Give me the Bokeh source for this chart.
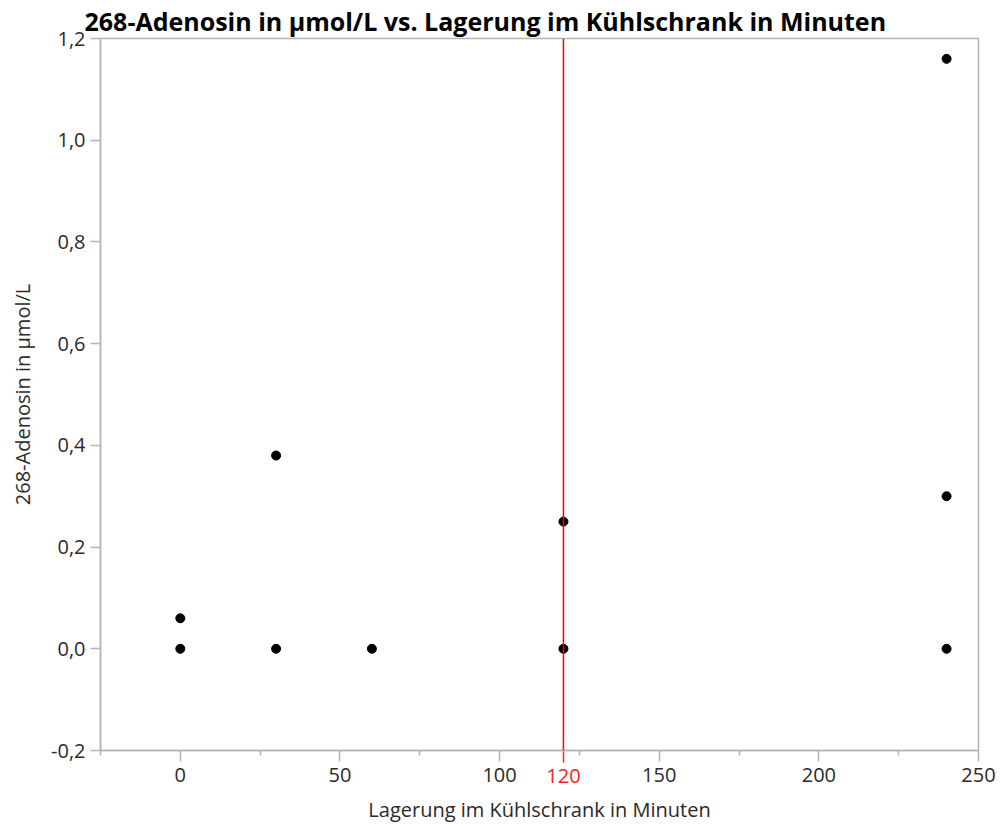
from bokeh.plotting import figure
from bokeh.models import (ColumnDataSource, Span, LinearAxis, FixedTicker,
                          CustomJSTickFormatter, Range1d)
from bokeh.embed import file_html
from bokeh.resources import INLINE

# Storage time in the fridge (minutes) and measured adenosine (µmol/L)
minutes = [0, 0, 30, 30, 60, 120, 120, 240, 240, 240]
adenosine = [0.06, 0.0, 0.38, 0.0, 0.0, 0.25, 0.0, 1.16, 0.30, 0.0]

x_ticks = [0, 50, 100, 150, 200, 250]
x_minor = [-25, 25, 75, 125, 175, 225]
y_ticks = [-0.2, 0.0, 0.2, 0.4, 0.6, 0.8, 1.0, 1.2]
ref_minutes = 120

FONT = "Open Sans"
TICK_COLOR = "#2a2a2a"
AXIS_COLOR = "#b4b4b4"
REF_COLOR = "#ff2020"

TICK_LEN = 11          # major tick length below/left of the frame
MINOR_LEN = 5
LABEL_GAP = 6
ROW_H = 33             # height taken by the first x axis (ticks + labels)

p = figure(width=1001, height=825, output_backend="svg", toolbar_location=None,
           title="268-Adenosin in µmol/L vs. Lagerung im Kühlschrank in Minuten",
           x_range=Range1d(-25, 250), y_range=Range1d(-0.2, 1.2),
           min_border_left=100, min_border_right=23,
           min_border_top=38, min_border_bottom=74)

p.title.text_font = FONT
p.title.text_font_style = "bold"
p.title.text_font_size = "25px"
p.title.text_color = "#000000"
p.title.align = "left"
p.title.offset = -16
p.title.standoff = 2

p.grid.visible = False
p.outline_line_color = AXIS_COLOR
p.outline_line_width = 1.5
p.background_fill_color = "white"
p.border_fill_color = "white"


def style_axis(ax):
    ax.axis_line_color = AXIS_COLOR
    ax.axis_line_width = 1.5
    ax.major_tick_line_color = AXIS_COLOR
    ax.major_tick_line_width = 1.5
    ax.minor_tick_line_color = AXIS_COLOR
    ax.minor_tick_line_width = 1.5
    ax.major_tick_in = 0
    ax.major_tick_out = TICK_LEN
    ax.minor_tick_in = 0
    ax.minor_tick_out = MINOR_LEN
    ax.major_label_text_font = FONT
    ax.major_label_text_font_size = "20px"
    ax.major_label_text_color = TICK_COLOR
    ax.axis_label_text_font = FONT
    ax.axis_label_text_font_size = "20px"
    ax.axis_label_text_font_style = "normal"
    ax.axis_label_text_color = TICK_COLOR


# x axis: ticks and numbers at the frame edge
xa = p.below[0]
style_axis(xa)
xa.ticker = FixedTicker(ticks=x_ticks, minor_ticks=x_minor)
xa.major_label_standoff = LABEL_GAP

# y axis with comma decimals
ya = p.left[0]
style_axis(ya)
ya.ticker = FixedTicker(ticks=y_ticks)
ya.formatter = CustomJSTickFormatter(
    code="return tick.toFixed(1).replace('.', ',');")
ya.major_tick_out = 10
ya.minor_tick_out = 0
ya.major_label_standoff = 5
ya.axis_label = "268-Adenosin in µmol/L"
ya.axis_label_standoff = 12

# Second x axis: the red 120 mark, pulled up into the same row as the
# other tick numbers; it also carries the x axis title
ref_axis = LinearAxis(ticker=FixedTicker(ticks=[ref_minutes], minor_ticks=[]))
style_axis(ref_axis)
ref_axis.axis_line_color = None
ref_axis.major_tick_line_color = REF_COLOR
ref_axis.major_label_text_color = REF_COLOR
ref_axis.major_tick_in = ROW_H
ref_axis.major_tick_out = TICK_LEN - ROW_H
ref_axis.minor_tick_in = 0
ref_axis.minor_tick_out = TICK_LEN - ROW_H
ref_axis.major_label_standoff = TICK_LEN + LABEL_GAP - ROW_H
ref_axis.axis_label = "Lagerung im Kühlschrank in Minuten"
ref_axis.axis_label_standoff = 10
p.add_layout(ref_axis, "below")

# Reference line at 120 minutes
p.add_layout(Span(location=ref_minutes, dimension="height",
                  line_color="#ff0000", line_width=1.5))

src = ColumnDataSource(data=dict(x=minutes, y=adenosine))
p.scatter("x", "y", source=src, size=9, fill_color="black",
          line_color="black")

open("out.html", "w").write(file_html(p, INLINE))
